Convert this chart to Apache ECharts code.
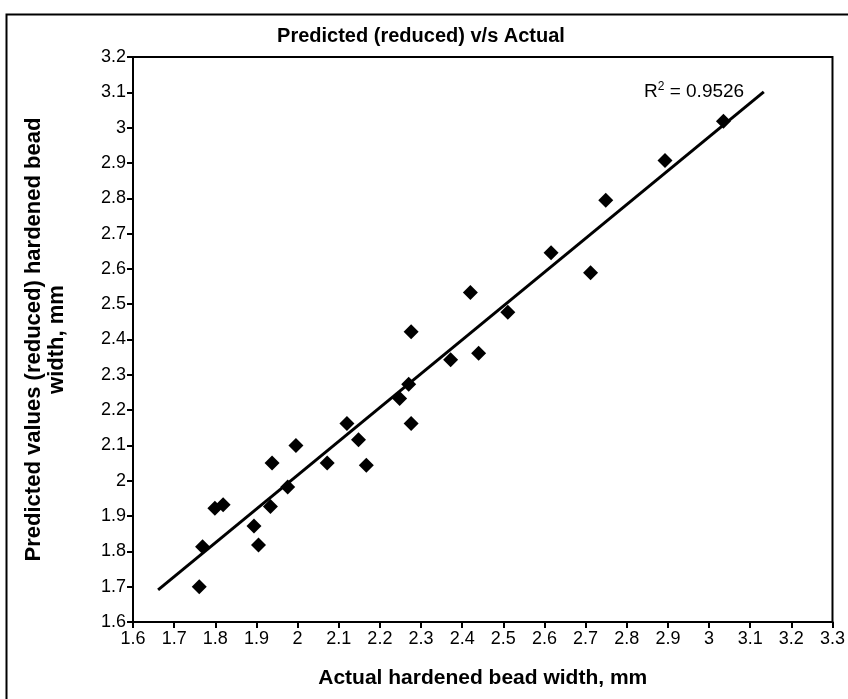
<!DOCTYPE html>
<html>
<head>
<meta charset="utf-8">
<script src="https://cdn.jsdelivr.net/npm/echarts@6/dist/echarts.min.js"></script>
<style>
html,body{margin:0;padding:0;background:#fff;}
#chart{width:848px;height:699px;}
</style>
</head>
<body>
<div id="chart"></div>
<script>
// Actual hardened bead width (mm)
var actual = [1.761, 1.769, 1.799, 1.819, 1.894, 1.905, 1.934, 1.938, 1.976, 1.996,
              2.072, 2.120, 2.148, 2.167, 2.248, 2.270, 2.276, 2.276, 2.372, 2.420,
              2.440, 2.511, 2.616, 2.712, 2.749, 2.893, 3.035];
// Predicted (reduced) hardened bead width (mm)
var predicted = [1.700, 1.813, 1.922, 1.932, 1.872, 1.818, 1.927, 2.050, 1.982, 2.100,
                 2.050, 2.162, 2.116, 2.044, 2.233, 2.273, 2.162, 2.422, 2.343, 2.533,
                 2.361, 2.477, 2.646, 2.589, 2.794, 2.907, 3.018];
// Linear trendline end points as drawn
var trendX = [1.661, 3.133];
var trendY = [1.691, 3.101];
var r2Text = '0.9526';

var titleText = 'Predicted (reduced) v/s Actual';
var xName = 'Actual hardened bead width, mm';
var yName = 'Predicted values (reduced) hardened bead\nwidth, mm';

var points = actual.map(function (x, i) { return [x, predicted[i]]; });
var trend = trendX.map(function (x, i) { return [x, trendY[i]]; });

var font = 'Arial, "Liberation Sans", sans-serif';
var chart = echarts.init(document.getElementById('chart'));
function fmt(v) { return String(+v.toFixed(1)); }

chart.setOption({
  backgroundColor: '#fff',
  animation: false,
  title: {
    text: titleText,
    left: 416, top: 21, textAlign: 'center',
    textStyle: { fontFamily: font, fontWeight: 'bold', fontSize: 20, color: '#000' }
  },
  grid: {
    left: 133, right: 10, top: 57, bottom: 77,
    show: true, borderColor: '#000', borderWidth: 2, backgroundColor: 'transparent'
  },
  xAxis: {
    type: 'value', min: 1.6, max: 3.3, interval: 0.1,
    name: xName, nameLocation: 'middle', nameGap: 46,
    nameTextStyle: { fontFamily: font, fontWeight: 'bold', fontSize: 21, color: '#000' },
    axisLine: { lineStyle: { color: '#000', width: 2 } },
    axisTick: { show: true, length: 6, lineStyle: { color: '#000', width: 2 } },
    axisLabel: { formatter: fmt, fontFamily: font, fontSize: 18, color: '#000', margin: 8, showMaxLabel: true, showMinLabel: true },
    splitLine: { show: false }
  },
  yAxis: {
    type: 'value', min: 1.6, max: 3.2, interval: 0.1,
    name: yName, nameLocation: 'middle', nameGap: 65, nameRotate: 90,
    nameTextStyle: { fontFamily: font, fontWeight: 'bold', fontSize: 22, color: '#000', lineHeight: 23 },
    axisLine: { lineStyle: { color: '#000', width: 2 } },
    axisTick: { show: true, length: 6, lineStyle: { color: '#000', width: 2 } },
    axisLabel: { formatter: fmt, fontFamily: font, fontSize: 18, color: '#000', margin: 7 },
    splitLine: { show: false }
  },
  graphic: [
    {
      type: 'rect', left: 4, top: 12, silent: true,
      shape: { width: 1000, height: 1000 },
      style: { fill: 'none', stroke: '#000', lineWidth: 2 }
    },
    {
      type: 'text', left: 644, top: 81, silent: true,
      style: {
        text: '{r|R}{s|2}{r| = ' + r2Text + '}',
        rich: {
          r: { fontFamily: font, fontSize: 19, fill: '#000', verticalAlign: 'bottom' },
          s: { fontFamily: font, fontSize: 12, fill: '#000', verticalAlign: 'top', padding: [0, 0, 8, 0] }
        }
      }
    }
  ],
  series: [
    {
      type: 'line', data: trend, showSymbol: false, symbol: 'none',
      lineStyle: { color: '#000', width: 3 }, z: 2, silent: true
    },
    {
      type: 'scatter', data: points, symbol: 'diamond', symbolSize: 15,
      itemStyle: { color: '#000', opacity: 1 }, z: 3
    }
  ]
});
</script>
</body>
</html>
